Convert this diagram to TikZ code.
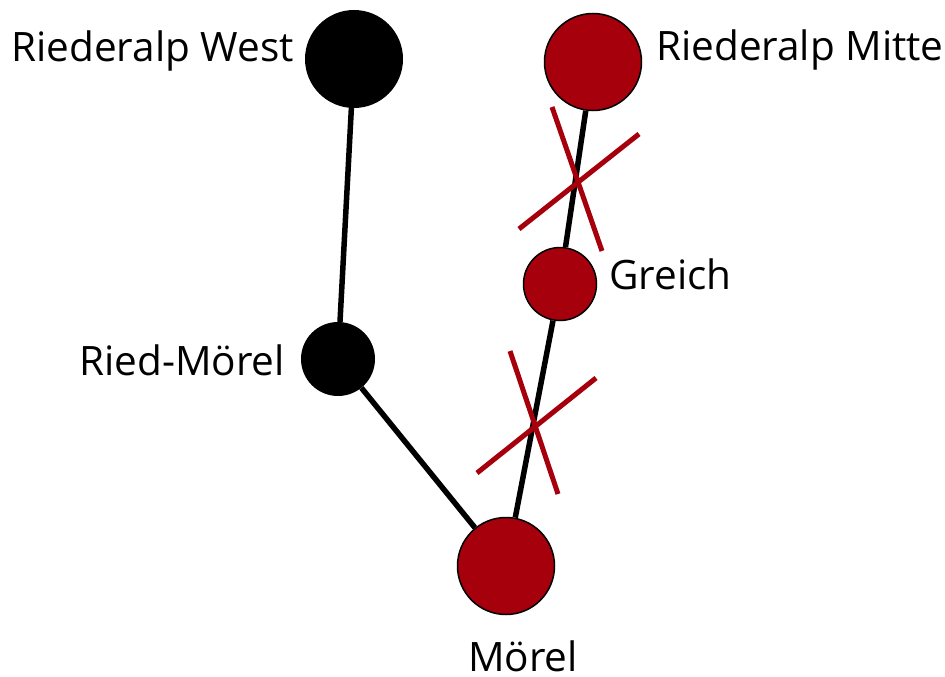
\documentclass[tikz,border=0pt]{standalone}
\usepackage{fontspec}
\setmainfont{Open Sans}
\usetikzlibrary{positioning}
\definecolor{sbbred}{RGB}{166,0,13}

\begin{document}
\begin{tikzpicture}[
                x=1pt, y=-1pt,                % 像素坐标
                every node/.style={
                    circle,
                    inner sep=0pt
                },
                blackstop/.style={fill=black, minimum size=#1},
                redstop/.style={fill=sbbred, draw=black, line width=1.5pt, minimum size=#1},
                stationname/.style={rectangle, inner sep=0pt, font=\fontsize{40.5}{40.5}\selectfont},
                track/.style={line width=5.5pt},
                closed/.style={sbbred, line width=5pt}
            ]
                \useasboundingbox (0,0) rectangle (945,677);

                % 车站
                \node[blackstop=98pt] (west) at (354,59) {};
                \node[blackstop=74pt] (riedmoerel) at (338,359) {};
                \node[redstop=97pt] (mitte) at (593,62) {};
                \node[redstop=73pt] (greich) at (560,284) {};
                \node[redstop=97pt] (moerel) at (506,566) {};

                % 站名
                \node[stationname, anchor=base east] (westname) at (294,62) {Riederalp West};
                \node[stationname, anchor=base east] (riedname) at (285,375) {Ried-Mörel};
                \node[stationname, anchor=base west] (mittename) at (656,61) {Riederalp Mitte};
                \node[stationname, anchor=base west] (greichname) at (609,289) {Greich};
                \node[stationname, anchor=base west] (moerelname) at (468,671) {Mörel};

                % 线路
                \draw[track] (west) -- (riedmoerel);
                \draw[track] (riedmoerel) -- (moerel);
                \draw[track] (moerel) -- (greich);
                \draw[track] (greich) -- (mitte);

                % 停运
                \draw[closed] (552,107) -- (602,251) (519,229) -- (639,134);
                \draw[closed] (510,351) -- (558,494) (477,473) -- (596,378);
            \end{tikzpicture}
\end{document}
